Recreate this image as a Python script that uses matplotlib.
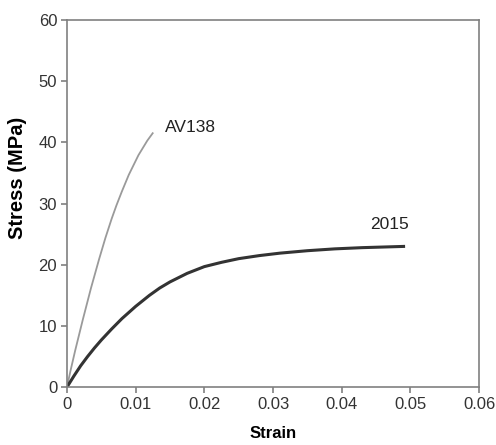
import matplotlib
matplotlib.use("Agg")
import matplotlib.pyplot as plt

plt.rcParams['font.family'] = ['Liberation Sans', 'DejaVu Sans']

# values
av138_strain = [0, 0.0005, 0.0012, 0.0023, 0.0035, 0.0047, 0.0056, 0.0065, 0.0072,
                0.0080, 0.0090, 0.0104, 0.0117, 0.01248]
av138_stress = [0, 2.6, 6.0, 11.0, 16.2, 21.0, 24.4, 27.5, 29.7, 32.0, 34.7, 37.9, 40.3, 41.5]

s2015_strain = [0, 0.001, 0.002, 0.003, 0.004, 0.005, 0.0065, 0.008, 0.010, 0.012, 0.0135,
                0.015, 0.0175, 0.020, 0.0225, 0.025, 0.028, 0.031, 0.035, 0.039, 0.043,
                0.046, 0.049]
s2015_stress = [0, 1.8, 3.5, 5.0, 6.4, 7.7, 9.5, 11.2, 13.2, 15.0, 16.2, 17.2, 18.6, 19.7,
                20.4, 21.0, 21.5, 21.9, 22.3, 22.6, 22.8, 22.9, 23.0]

fig = plt.figure(figsize=(4.96, 4.45), dpi=100)
ax = fig.add_axes([0.135, 0.130, 0.831, 0.825])

ax.plot(av138_strain, av138_stress, color='#9a9a9a', lw=1.3)
ax.plot(s2015_strain, s2015_stress, color='#333333', lw=2.2)

ax.text(0.0142, 42.5, 'AV138', fontsize=12.5, va='center', color='#222222')
ax.text(0.0441, 26.6, '2015', fontsize=12.5, va='center', color='#222222')

ax.set_xlim(0, 0.06)
ax.set_ylim(0, 60)
ax.set_xticks([0, 0.01, 0.02, 0.03, 0.04, 0.05, 0.06])
ax.set_xticklabels(['0', '0.01', '0.02', '0.03', '0.04', '0.05', '0.06'])
ax.set_yticks(range(0, 61, 10))

for sp in ax.spines.values():
    sp.set_color('#808080')
    sp.set_linewidth(1.2)
ax.tick_params(direction='out', length=4, width=1.2, color='#808080',
               labelsize=12, labelcolor='#333333', pad=3)

ax.set_xlabel('Strain', fontsize=12, fontweight='bold')
ax.xaxis.set_label_coords(0.5, -0.106)
ax.set_ylabel('Stress (MPa)', fontsize=14.5, fontweight='bold')
ax.yaxis.set_label_coords(-0.097, 0.57)

fig.savefig('out.png', dpi=100)
